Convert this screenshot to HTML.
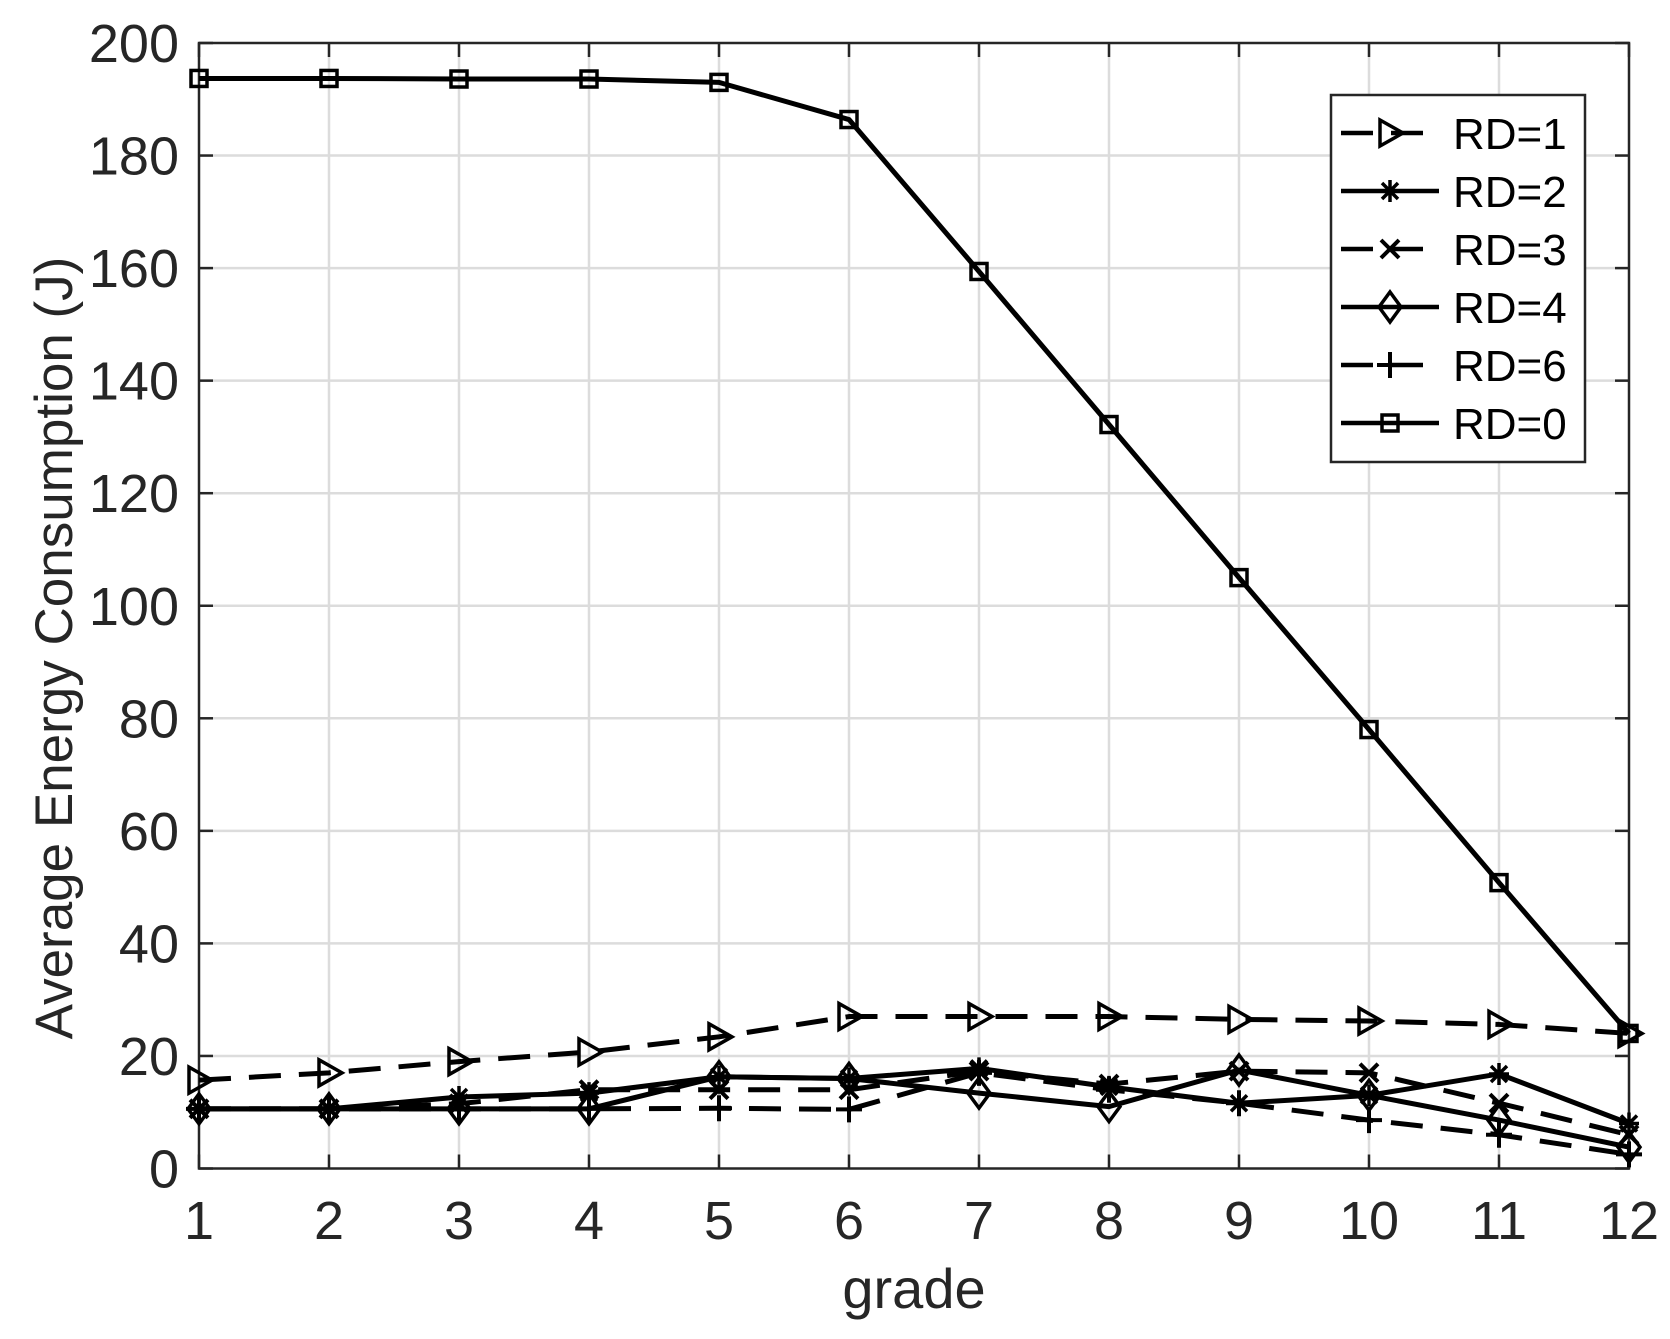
<!DOCTYPE html>
<html><head><meta charset="utf-8"><style>
html,body{margin:0;padding:0;background:#fff;}
svg{display:block;font-family:"Liberation Sans",Arial,sans-serif;}
</style></head><body>
<svg id="s" width="1670" height="1339" viewBox="0 0 1670 1339" xmlns="http://www.w3.org/2000/svg">
<rect width="1670" height="1339" fill="#fff"/>
<g id="grid" stroke="#dcdcdc" stroke-width="2.5"></g>
<g id="axes"></g>
<g id="series"></g>
<g id="legend"></g>
<text x="914" y="1308" font-size="56" fill="#262626" text-anchor="middle">grade</text>
<text transform="translate(72,648) rotate(-90)" font-size="53" fill="#262626" text-anchor="middle">Average Energy Consumption (J)</text>
</svg>
<script>
var NS="http://www.w3.org/2000/svg";
function el(p,t,a,txt){var e=document.createElementNS(NS,t);for(var k in a)e.setAttribute(k,a[k]);if(txt!==undefined)e.textContent=txt;p.appendChild(e);return e;}
var L=199,R=1629,T=43,B=1168.5;
function X(i){return L+(i-1)*(R-L)/11;}
function Y(v){return B-v*(B-T)/200;}
var g=document.getElementById('grid'),ax=document.getElementById('axes');
for(var i=2;i<=11;i++)el(g,'line',{x1:X(i),x2:X(i),y1:T,y2:B});
for(var v=20;v<=180;v+=20)el(g,'line',{x1:L,x2:R,y1:Y(v),y2:Y(v)});
el(ax,'rect',{x:L,y:T,width:R-L,height:B-T,fill:'none',stroke:'#262626','stroke-width':2.5});
for(var i=1;i<=12;i++){el(ax,'line',{x1:X(i),x2:X(i),y1:B,y2:B-14,stroke:'#262626','stroke-width':2.5});el(ax,'line',{x1:X(i),x2:X(i),y1:T,y2:T+14,stroke:'#262626','stroke-width':2.5});
el(ax,'text',{x:X(i),y:1239,'font-size':54,fill:'#262626','text-anchor':'middle'},String(i));}
for(var v=0;v<=200;v+=20){el(ax,'line',{x1:L,x2:L+14,y1:Y(v),y2:Y(v),stroke:'#262626','stroke-width':2.5});el(ax,'line',{x1:R,x2:R-14,y1:Y(v),y2:Y(v),stroke:'#262626','stroke-width':2.5});
el(ax,'text',{x:179,y:Y(v)+19,'font-size':54,fill:'#262626','text-anchor':'end'},String(v));}
var data=[
 {n:'RD=1',d:true,m:'tri',v:[15.7,17,19,20.7,23.4,27,27,27,26.5,26.2,25.6,24]},
 {n:'RD=2',d:false,m:'ast',v:[10.6,10.6,12.7,13.4,16.3,16,17.8,14.5,11.6,13,16.8,8]},
 {n:'RD=3',d:true,m:'x',v:[10.6,10.6,11.5,14,14,14,17.3,15,17.3,17,11.6,6]},
 {n:'RD=4',d:false,m:'dia',v:[10.6,10.6,10.6,10.6,16.3,16,13.4,11,17.5,13,8.6,3.8]},
 {n:'RD=6',d:true,m:'plus',v:[10.6,10.6,10.6,10.6,10.7,10.5,17,14,11.6,8.6,6,2.5]},
 {n:'RD=0',d:false,m:'sq',v:[193.7,193.7,193.6,193.6,193.0,186.4,159.4,132.2,105,78,50.8,24]}];
function marker(p,t,x,y){var s={stroke:'#000','stroke-width':3.5,fill:'none'};
 if(t=='tri'){s.points=(x-10)+','+(y-13)+' '+(x+13)+','+y+' '+(x-10)+','+(y+13);el(p,'polygon',s);}
 else if(t=='dia'){s.points=x+','+(y-15)+' '+(x+11)+','+y+' '+x+','+(y+15)+' '+(x-11)+','+y;el(p,'polygon',s);}
 else if(t=='sq'){s.x=x-8;s.y=y-8;s.width=16;s.height=16;el(p,'rect',s);}
 else if(t=='plus'){el(p,'path',{d:'M'+(x-13)+' '+y+'H'+(x+13)+'M'+x+' '+(y-13)+'V'+(y+13),stroke:'#000','stroke-width':4});}
 else if(t=='x'){el(p,'path',{d:'M'+(x-9)+' '+(y-9)+'L'+(x+9)+' '+(y+9)+'M'+(x+9)+' '+(y-9)+'L'+(x-9)+' '+(y+9),stroke:'#000','stroke-width':4});}
 else if(t=='ast'){el(p,'path',{d:'M'+(x-10)+' '+y+'H'+(x+10)+'M'+x+' '+(y-11)+'V'+(y+11)+'M'+(x-8)+' '+(y-8)+'L'+(x+8)+' '+(y+8)+'M'+(x+8)+' '+(y-8)+'L'+(x-8)+' '+(y+8),stroke:'#000','stroke-width':3.5});}
}
var sg=document.getElementById('series');
data.forEach(function(s){var pts=s.v.map(function(v,i){return X(i+1)+','+Y(v);}).join(' ');
 var a={points:pts,fill:'none',stroke:'#000','stroke-width':5,'stroke-linejoin':'round'};if(s.d)a['stroke-dasharray']='32 18';el(sg,'polyline',a);
 s.v.forEach(function(v,i){marker(sg,s.m,X(i+1),Y(v));});});
var lg=document.getElementById('legend');
el(lg,'rect',{x:1331,y:95,width:254,height:367,fill:'#fff',stroke:'#262626','stroke-width':2.5});
data.forEach(function(s,k){var y=133+k*58;var a={x1:1341,x2:1439,y1:y,y2:y,stroke:'#000','stroke-width':4.5};if(s.d)a['stroke-dasharray']='32 18';el(lg,'line',a);
 marker(lg,s.m,1390,y);el(lg,'text',{x:1453,y:y+16,'font-size':44,fill:'#000'},s.n);});
</script>
</body></html>
